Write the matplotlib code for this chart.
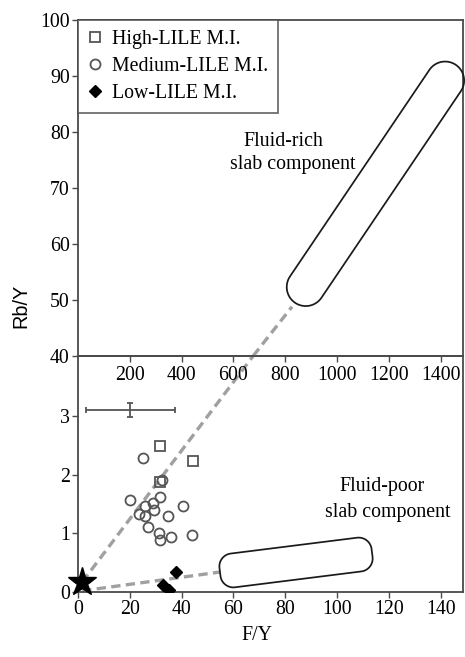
import numpy as np
import matplotlib
matplotlib.use("Agg")
import matplotlib.pyplot as plt
from matplotlib.patches import Polygon
from matplotlib.lines import Line2D

# ---------------- data ----------------
high_x = [31.5, 44.3, 31.5]
high_y = [2.49, 2.23, 1.87]

med_x = [25.2, 20.1, 26.0, 28.9, 31.7, 29.5, 23.4, 25.9, 34.7, 40.5, 27.2, 31.2, 31.8, 36.0, 44.1, 32.4]
med_y = [2.28, 1.57, 1.47, 1.51, 1.62, 1.40, 1.33, 1.30, 1.29, 1.47, 1.11, 1.00, 0.89, 0.93, 0.97, 1.91]

low_x = [37.7, 32.8, 35.1]
low_y = [0.34, 0.12, 0.03]

source_x = [1.6]
source_y = [0.17]

err_x, err_y = [20.2], [3.10]
err_xe, err_ye = [17.1], [0.12]

# mixing lines (lower panel: F/Y 0-150, upper panel: F/Y 0-1500)
rich_line_low_x = [1.6, 67.6]
rich_line_low_y = [0.17, 4.02]
rich_line_up_x = [676, 826]
rich_line_up_y = [40, 48.8]
poor_line_x = [1.6, 54.8]
poor_line_y = [0.02, 0.34]

# fields (tip-to-tip centre line)
rich_field_x = [838, 1458]
rich_field_y = [49.5, 92.0]
poor_field_x = [54.8, 113.5]
poor_field_y = [0.34, 0.665]

up_yticks = [40, 50, 60, 70, 80, 90, 100]
up_xticks = [200, 400, 600, 800, 1000, 1200, 1400]
low_yticks = [0, 1, 2, 3]
low_xticks = [0, 20, 40, 60, 80, 100, 120, 140]

# ---------------- style ----------------
serif = "Liberation Serif"
fs = 14.3
spine_c = "#4a4a4a"
dash_c = "#a0a0a0"

W_PX, H_PX = 465, 657
fig = plt.figure(figsize=(W_PX / 100, H_PX / 100), dpi=100)

left = 78 / W_PX
width = (463 - 78) / W_PX
ax_b = fig.add_axes([left, 1 - 592 / H_PX, width, (592 - 356) / H_PX])
ax_t = fig.add_axes([left, 1 - 356 / H_PX, width, (356 - 20) / H_PX])
ax_b.patch.set_facecolor("none")
ax_t.patch.set_facecolor("none")

ax_b.set_xlim(0, 148.6)
ax_b.set_ylim(0, 4.02)
ax_t.set_xlim(0, 1486)
ax_t.set_ylim(40, 100)

for ax in (ax_b, ax_t):
    for s in ax.spines.values():
        s.set_color(spine_c)
        s.set_linewidth(1.3)
    ax.tick_params(direction="out", length=4, width=1.0, color=spine_c,
                   labelsize=fs, pad=2)

ax_b.set_xticks(low_xticks)
ax_b.set_yticks(low_yticks)
ax_t.set_xticks(up_xticks)
ax_t.set_yticks(up_yticks)
for ax in (ax_b, ax_t):
    ax.set_xticklabels([str(v) for v in ax.get_xticks()], fontfamily=serif, fontsize=fs)
    ax.set_yticklabels([str(v) for v in ax.get_yticks()], fontfamily=serif, fontsize=fs)
ax_t.tick_params(axis="x", pad=3)


def rounded_band(ax, xs, ys, half_w, r, n=24):
    """Rounded rectangle along a centre line (given in data units); widths in pixels."""
    p0 = ax.transData.transform((xs[0], ys[0]))
    p1 = ax.transData.transform((xs[1], ys[1]))
    d = p1 - p0
    L = np.hypot(*d)
    u = d / L
    nv = np.array([-u[1], u[0]])
    pts = []
    corners = [((L - r, -half_w + r), -90, 0), ((L - r, half_w - r), 0, 90),
               ((r, half_w - r), 90, 180), ((r, -half_w + r), 180, 270)]
    for (cs, ct), a0, a1 in corners:
        a = np.radians(np.linspace(a0, a1, n))
        for ang in a:
            s = cs + r * np.cos(ang)
            t = ct + r * np.sin(ang)
            pts.append(p0 + s * u + t * nv)
    pts = np.array(pts)
    data_pts = ax.transData.inverted().transform(pts)
    poly = Polygon(data_pts, closed=True, fill=False, edgecolor="#1a1a1a", lw=1.25,
                   clip_on=False, zorder=3)
    ax.add_patch(poly)


dash_style = dict(color=dash_c, lw=2.4, linestyle=(0, (2.8, 1.6)),
                  dash_capstyle="butt", zorder=2)

# lower panel
ax_b.plot(rich_line_low_x, rich_line_low_y, **dash_style)
ax_b.plot(poor_line_x, poor_line_y, **dash_style)
rounded_band(ax_b, poor_field_x, poor_field_y, 17, 13)

ax_b.errorbar(err_x, err_y, xerr=err_xe, yerr=err_ye, fmt="none", ecolor="#555555",
              elinewidth=1.3, capsize=2.5, capthick=1.3, zorder=3)

mk_c = "#555555"
ax_b.plot(med_x, med_y, "o", ms=7.2, mfc="none", mec=mk_c, mew=1.3, zorder=4)
ax_b.plot(high_x, high_y, "s", ms=7.6, mfc="none", mec=mk_c, mew=1.3, zorder=4)
ax_b.plot(low_x, low_y, "D", ms=6.0, mfc="black", mec="black", zorder=4)
ax_b.plot(source_x, source_y, "*", ms=21, color="black", clip_on=False, zorder=5)

ax_b.text(117.3, 1.79, "Fluid-poor", ha="center", va="center", fontfamily=serif, fontsize=fs)
ax_b.text(119.6, 1.36, "slab component", ha="center", va="center", fontfamily=serif, fontsize=fs)

# upper panel
ax_t.plot(rich_line_up_x, rich_line_up_y, **dash_style)
rounded_band(ax_t, rich_field_x, rich_field_y, 19, 19)
ax_t.text(792, 78.3, "Fluid-rich", ha="center", va="center", fontfamily=serif, fontsize=fs)
ax_t.text(827, 74.2, "slab component", ha="center", va="center", fontfamily=serif, fontsize=fs)

handles = [
    Line2D([], [], ls="none", marker="s", ms=7.6, mfc="none", mec=mk_c, mew=1.3),
    Line2D([], [], ls="none", marker="o", ms=7.2, mfc="none", mec=mk_c, mew=1.3),
    Line2D([], [], ls="none", marker="D", ms=6.0, mfc="black", mec="black"),
]
labels = ["High-LILE M.I.", "Medium-LILE M.I.", "Low-LILE M.I."]
leg = ax_t.legend(handles, labels, loc="upper left", bbox_to_anchor=(0, 1),
                  borderaxespad=0, frameon=True, fancybox=False, edgecolor=spine_c,
                  prop={"family": serif, "size": fs}, handlelength=0.8,
                  handletextpad=0.45, labelspacing=0.42, borderpad=0.48)
leg.get_frame().set_linewidth(1.3)

fig.text(21 / W_PX, 1 - 306 / H_PX, "Rb/Y", rotation=90, ha="center", va="center",
         fontfamily="Liberation Sans", fontsize=fs)
fig.text(257 / W_PX, 1 - 636 / H_PX, "F/Y", ha="center", va="center",
         fontfamily=serif, fontsize=fs)

fig.savefig("out.png", dpi=100)
